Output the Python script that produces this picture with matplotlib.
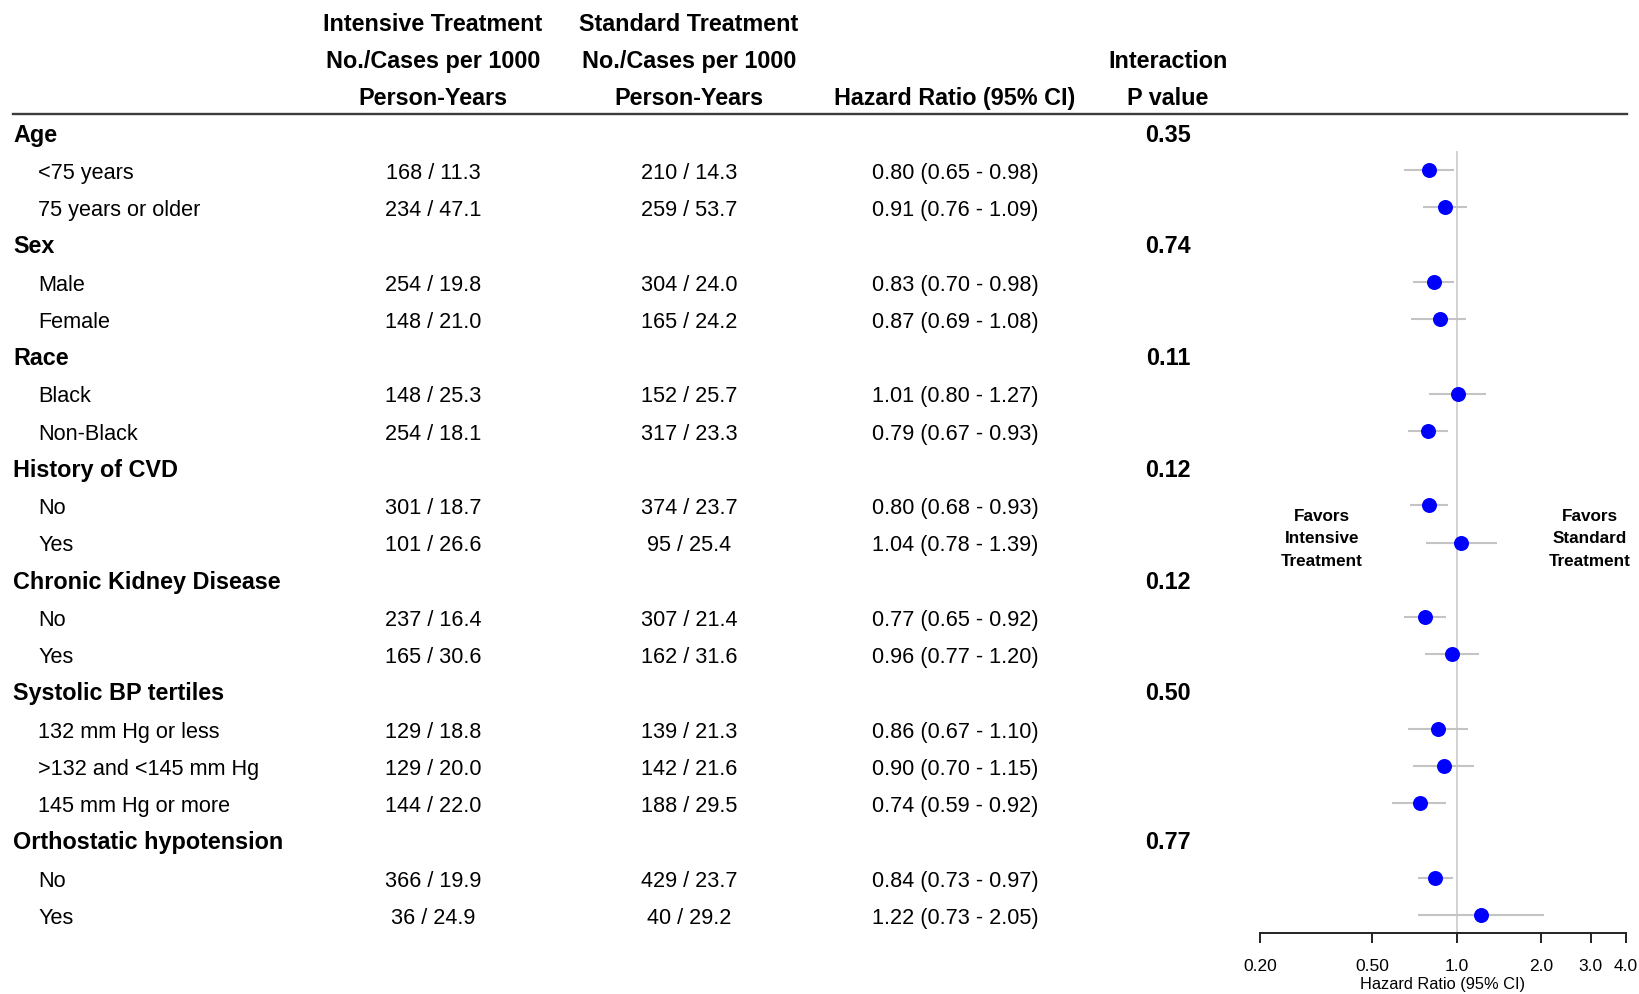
import matplotlib
matplotlib.use("Agg")
import matplotlib.pyplot as plt
import matplotlib.transforms as mtransforms
from matplotlib.lines import Line2D
from matplotlib.ticker import FixedLocator, NullLocator

plt.rcParams["font.family"] = ["Liberation Sans", "DejaVu Sans"]

# ------------------------------------------------------------
# Data
# ------------------------------------------------------------
categories = [
    "Age", "Sex", "Race", "History of CVD", "Chronic Kidney Disease",
    "Systolic BP tertiles", "Orthostatic hypotension",
]
p_values = ["0.35", "0.74", "0.11", "0.12", "0.12", "0.50", "0.77"]
group_sizes = [2, 2, 2, 2, 2, 3, 2]

subgroups = [
    "<75 years", "75 years or older",
    "Male", "Female",
    "Black", "Non-Black",
    "No", "Yes",
    "No", "Yes",
    "132 mm Hg or less", ">132 and <145 mm Hg", "145 mm Hg or more",
    "No", "Yes",
]
intensive_n = [168, 234, 254, 148, 148, 254, 301, 101, 237, 165, 129, 129, 144, 366, 36]
intensive_rate = [11.3, 47.1, 19.8, 21.0, 25.3, 18.1, 18.7, 26.6, 16.4, 30.6, 18.8, 20.0, 22.0, 19.9, 24.9]
standard_n = [210, 259, 304, 165, 152, 317, 374, 95, 307, 162, 139, 142, 188, 429, 40]
standard_rate = [14.3, 53.7, 24.0, 24.2, 25.7, 23.3, 23.7, 25.4, 21.4, 31.6, 21.3, 21.6, 29.5, 23.7, 29.2]
hr = [0.80, 0.91, 0.83, 0.87, 1.01, 0.79, 0.80, 1.04, 0.77, 0.96, 0.86, 0.90, 0.74, 0.84, 1.22]
ci_lo = [0.65, 0.76, 0.70, 0.69, 0.80, 0.67, 0.68, 0.78, 0.65, 0.77, 0.67, 0.70, 0.59, 0.73, 0.73]
ci_hi = [0.98, 1.09, 0.98, 1.08, 1.27, 0.93, 0.93, 1.39, 0.92, 1.20, 1.10, 1.15, 0.92, 0.97, 2.05]

x_ticks = [0.2, 0.5, 1.0, 2.0, 3.0, 4.0]
x_tick_labels = ["0.20", "0.50", "1.0", "2.0", "3.0", "4.0"]

# ------------------------------------------------------------
# Layout (pixels on a 1640 x 995 canvas)
# ------------------------------------------------------------
W, H = 1640, 995
ROW0_PX, ROW_STEP_PX = 133.8, 37.25
AX_LEFT, AX_RIGHT = 1260, 1626
AX_TOP, AX_BOTTOM = 115, 934

X_CAT, X_SUB = 13, 38
X_INT, X_STD, X_HR, X_P = 433, 689, 955, 1168

FS = 15.6       # body text
FS_B = 16.8     # bold headings
BASE = 0.21     # baseline offset in row units

fig = plt.figure(figsize=(W / 100, H / 100), dpi=100)

ax = fig.add_axes([
    AX_LEFT / W,
    (H - AX_BOTTOM) / H,
    (AX_RIGHT - AX_LEFT) / W,
    (AX_BOTTOM - AX_TOP) / H,
])
ax.set_xscale("log")
ax.set_xlim(0.2, 4.0)
y_top = (AX_TOP - ROW0_PX) / ROW_STEP_PX
y_bot = (AX_BOTTOM - ROW0_PX) / ROW_STEP_PX
ax.set_ylim(y_bot, y_top)

trans = mtransforms.blended_transform_factory(fig.transFigure, ax.transData)


def put(x_px, row, s, bold=False, **kw):
    fig.text(x_px / W, row + BASE, s, transform=trans,
             fontsize=FS_B if bold else FS,
             fontweight="bold" if bold else "normal",
             va="baseline", **kw)


# header
header_rows = [-3, -2, -1]
for r, txt in zip(header_rows, ["Intensive Treatment", "No./Cases per 1000", "Person-Years"]):
    put(X_INT, r + 0.02, txt, bold=True, ha="center")
for r, txt in zip(header_rows, ["Standard Treatment", "No./Cases per 1000", "Person-Years"]):
    put(X_STD, r + 0.02, txt, bold=True, ha="center")
put(X_HR, -1 + 0.02, "Hazard Ratio (95% CI)", bold=True, ha="center")
put(X_P, -2 + 0.02, "Interaction", bold=True, ha="center")
put(X_P, -1 + 0.02, "P value", bold=True, ha="center")

fig.add_artist(Line2D([X_CAT / W, 1627 / W], [-0.5, -0.5], transform=trans,
                      color="#3c3c3c", lw=1.7))

# table rows + forest marks
row = 0
k = 0
for cat, p, n in zip(categories, p_values, group_sizes):
    put(X_CAT, row, cat, bold=True)
    put(X_P, row, p, bold=True, ha="center")
    row += 1
    for _ in range(n):
        put(X_SUB, row, subgroups[k])
        put(X_INT, row, f"{intensive_n[k]} / {intensive_rate[k]:.1f}", ha="center")
        put(X_STD, row, f"{standard_n[k]} / {standard_rate[k]:.1f}", ha="center")
        put(X_HR, row, f"{hr[k]:.2f} ({ci_lo[k]:.2f} - {ci_hi[k]:.2f})", ha="center")
        ax.plot([ci_lo[k], ci_hi[k]], [row, row], color="#c4c4c4", lw=1.5,
                solid_capstyle="butt", zorder=2)
        ax.plot(hr[k], row, "o", color="#0000ff", markersize=10.8,
                markeredgewidth=0, zorder=3)
        row += 1
        k += 1

# reference line at HR = 1
ax.vlines(1.0, 0.49, y_bot, color="#d2d2d2", lw=1.4, zorder=1)

# axis styling
for side in ["top", "right", "left"]:
    ax.spines[side].set_visible(False)
ax.spines["bottom"].set_linewidth(1.4)
ax.spines["bottom"].set_color("#222222")
ax.xaxis.set_major_locator(FixedLocator(x_ticks))
ax.xaxis.set_minor_locator(NullLocator())
ax.set_xticklabels(x_tick_labels)
ax.tick_params(axis="x", direction="out", length=7.2, width=1.4,
               color="#222222", labelsize=12.5, pad=10.7)
ax.set_yticks([])
ax.set_xlabel("Hazard Ratio (95% CI)", fontsize=11.8, labelpad=2.5)
ax.patch.set_visible(False)

# favour annotations
fav_row = (539 - ROW0_PX) / ROW_STEP_PX
fig.text(1322 / W, fav_row, "Favors\nIntensive\nTreatment", transform=trans,
         fontsize=12.3, fontweight="bold", ha="center", va="center",
         linespacing=1.65)
fig.text(1590 / W, fav_row, "Favors\nStandard\nTreatment", transform=trans,
         fontsize=12.3, fontweight="bold", ha="center", va="center",
         linespacing=1.65)

fig.savefig("out.png", dpi=100)
